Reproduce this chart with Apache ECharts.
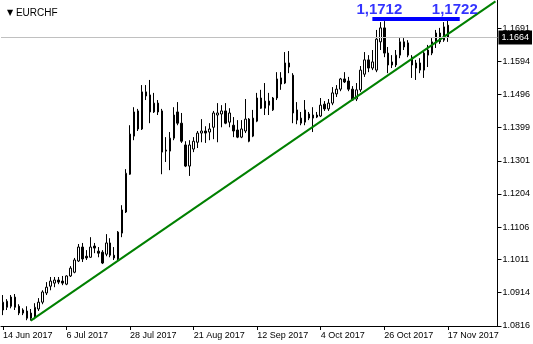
<!DOCTYPE html>
<html><head><meta charset="utf-8">
<script src="https://cdn.jsdelivr.net/npm/echarts@6/dist/echarts.min.js"></script>
<style>html,body{margin:0;padding:0;background:#fff}#c{width:533px;height:344px}</style>
</head><body><div id="c"></div>
<script>
// ---- data (daily EURCHF candles, 14 Jun 2017 .. 17 Nov 2017) ----
const symbolName = 'EURCHF';
const startDate = '2017-06-14';
const totalSlots = 125; // bars plus right-hand chart shift
const opens = [1.0863,1.0871,1.0901,1.0871,1.0874,1.0863,1.0860,1.0854,1.0842,1.0866,
1.0886,1.0913,1.0933,1.0942,1.0951,1.0948,1.0939,1.0963,1.0974,1.1007,
1.1048,1.1021,1.1018,1.1051,1.1036,1.1033,1.1027,1.1060,1.1024,1.1013,
1.1089,1.1151,1.1262,1.1374,1.1448,1.1395,1.1504,1.1495,1.1445,1.1471,
1.1448,1.1330,1.1330,1.1368,1.1445,1.1412,1.1348,1.1286,1.1336,1.1356,
1.1383,1.1389,1.1386,1.1400,1.1436,1.1439,1.1448,1.1415,1.1406,1.1392,
1.1371,1.1389,1.1424,1.1374,1.1418,1.1486,1.1456,1.1477,1.1451,1.1486,
1.1545,1.1530,1.1589,1.1553,1.1451,1.1412,1.1415,1.1427,1.1427,1.1436,
1.1433,1.1468,1.1454,1.1471,1.1498,1.1512,1.1542,1.1536,1.1512,1.1483,
1.1510,1.1556,1.1598,1.1574,1.1568,1.1651,1.1692,1.1618,1.1592,1.1583,
1.1612,1.1651,1.1648,1.1606,1.1574,1.1589,1.1568,1.1612,1.1618,1.1648,
1.1677,1.1656,1.1700];
const closes = [1.0886,1.0889,1.0874,1.0901,1.0854,1.0854,1.0839,1.0839,1.0871,1.0886,
1.0916,1.0930,1.0948,1.0951,1.0945,1.0942,1.0963,1.0986,1.1010,1.1048,
1.1013,1.1016,1.1048,1.1045,1.1030,1.1001,1.1060,1.1024,1.1016,1.1092,
1.1157,1.1265,1.1380,1.1445,1.1395,1.1504,1.1492,1.1445,1.1471,1.1445,
1.1327,1.1333,1.1368,1.1436,1.1412,1.1359,1.1286,1.1348,1.1359,1.1383,
1.1389,1.1383,1.1395,1.1442,1.1442,1.1448,1.1412,1.1442,1.1389,1.1371,
1.1395,1.1424,1.1359,1.1427,1.1486,1.1456,1.1477,1.1465,1.1486,1.1542,
1.1527,1.1589,1.1577,1.1442,1.1421,1.1427,1.1451,1.1439,1.1436,1.1430,
1.1465,1.1454,1.1471,1.1501,1.1512,1.1542,1.1533,1.1512,1.1480,1.1510,
1.1568,1.1598,1.1574,1.1592,1.1659,1.1692,1.1618,1.1583,1.1583,1.1612,
1.1651,1.1636,1.1612,1.1583,1.1589,1.1568,1.1618,1.1627,1.1651,1.1677,
1.1651,1.1695,1.1664];
const highs = [1.0907,1.0895,1.0907,1.0910,1.0880,1.0868,1.0874,1.0866,1.0883,1.0898,
1.0921,1.0945,1.0960,1.0960,1.0960,1.0963,1.0965,1.0992,1.1016,1.1057,
1.1060,1.1039,1.1077,1.1060,1.1048,1.1039,1.1086,1.1074,1.1048,1.1095,
1.1171,1.1277,1.1406,1.1459,1.1454,1.1524,1.1524,1.1539,1.1501,1.1480,
1.1454,1.1371,1.1386,1.1459,1.1474,1.1442,1.1359,1.1362,1.1371,1.1389,
1.1424,1.1403,1.1412,1.1448,1.1471,1.1465,1.1471,1.1456,1.1430,1.1421,
1.1421,1.1483,1.1427,1.1451,1.1501,1.1510,1.1530,1.1501,1.1489,1.1562,
1.1562,1.1621,1.1624,1.1559,1.1474,1.1445,1.1480,1.1445,1.1459,1.1445,
1.1486,1.1477,1.1483,1.1518,1.1524,1.1545,1.1562,1.1548,1.1521,1.1530,
1.1580,1.1621,1.1612,1.1627,1.1686,1.1709,1.1712,1.1636,1.1612,1.1627,
1.1662,1.1662,1.1656,1.1612,1.1598,1.1603,1.1627,1.1642,1.1662,1.1686,
1.1692,1.1709,1.1722];
const lows = [1.0848,1.0863,1.0868,1.0863,1.0848,1.0848,1.0833,1.0832,1.0836,1.0860,
1.0880,1.0907,1.0921,1.0930,1.0939,1.0936,1.0936,1.0960,1.0971,1.1004,
1.1004,1.1010,1.1016,1.1030,1.1018,1.0998,1.1021,1.1018,1.1010,1.1010,
1.1077,1.1148,1.1260,1.1362,1.1389,1.1392,1.1480,1.1412,1.1442,1.1436,
1.1262,1.1298,1.1274,1.1362,1.1406,1.1354,1.1283,1.1257,1.1327,1.1339,
1.1356,1.1354,1.1362,1.1365,1.1356,1.1400,1.1409,1.1400,1.1371,1.1368,
1.1368,1.1383,1.1356,1.1371,1.1415,1.1454,1.1436,1.1436,1.1448,1.1480,
1.1510,1.1527,1.1559,1.1412,1.1409,1.1406,1.1406,1.1421,1.1386,1.1427,
1.1430,1.1448,1.1448,1.1465,1.1489,1.1506,1.1530,1.1506,1.1478,1.1477,
1.1504,1.1548,1.1562,1.1568,1.1562,1.1627,1.1606,1.1559,1.1574,1.1577,
1.1603,1.1627,1.1606,1.1545,1.1539,1.1559,1.1545,1.1577,1.1612,1.1633,
1.1645,1.1651,1.1651];
const priceTicks = [1.0816,1.0914,1.1011,1.1106,1.1204,1.1301,1.1399,1.1496,1.1594,1.1691];
const priceMin = 1.0816, priceMax = 1.1774;
const bidPrice = 1.1664;
// trend line (bar index, price), resistance level and its notes
const trendIdx = [7, 124];
const trendPrice = [1.0832, 1.1770];
const levelIdx = [93, 115];
const levelPrice = 1.1718;
const noteIdx = [94, 113];
const notePrice = 1.1745;
const noteText = ['1,1712', '1,1722'];

// ---- build categories (trading days) ----
const MONTHS = ['Jan','Feb','Mar','Apr','May','Jun','Jul','Aug','Sep','Oct','Nov','Dec'];
const categories = [];
{
  const d = new Date(startDate + 'T00:00:00Z');
  while (categories.length < totalSlots) {
    const wd = d.getUTCDay();
    if (wd !== 0 && wd !== 6) categories.push(d.getUTCDate() + ' ' + MONTHS[d.getUTCMonth()] + ' ' + d.getUTCFullYear());
    d.setUTCDate(d.getUTCDate() + 1);
  }
}
const candles = opens.map((o, i) => [o, closes[i], lows[i], highs[i]]);
const trendData = trendIdx.map((x, i) => [x, trendPrice[i]]);
const levelData = levelIdx.map(x => [x, levelPrice]);
const noteData = noteIdx.map((x, i) => [x, notePrice, noteText[i]]);

const FONT = 'Liberation Sans';
const chart = echarts.init(document.getElementById('c'), null, {renderer: 'canvas', devicePixelRatio: 1});
chart.setOption({
  animation: false,
  backgroundColor: '#ffffff',
  title: {
    text: '{t|▼} ' + symbolName, left: 2, top: 3,
    textStyle: {fontFamily: FONT, fontSize: 10, fontWeight: 'normal', color: '#000',
      rich: {t: {fontSize: 8, color: '#000', fontFamily: 'DejaVu Sans'}}}
  },
  grid: {left: 0.5, top: 0, width: 500, height: 326, containLabel: false},
  xAxis: {
    type: 'category', data: categories, boundaryGap: true,
    axisLine: {show: true, lineStyle: {color: '#000', width: 1}},
    axisTick: {show: true, interval: 15, alignWithLabel: true, length: 4, lineStyle: {color: '#000'}},
    axisLabel: {interval: 15, align: 'left', margin: 5, fontFamily: FONT, fontSize: 9, color: '#000'},
    splitLine: {show: false}
  },
  yAxis: {
    type: 'value', position: 'right', min: priceMin, max: priceMax,
    axisLine: {show: true, lineStyle: {color: '#000', width: 1}},
    axisTick: {show: true, length: 4, lineStyle: {color: '#000'}, customValues: priceTicks},
    axisLabel: {margin: 5, fontFamily: FONT, fontSize: 9, color: '#000', customValues: priceTicks,
      formatter: v => v.toFixed(4)},
    splitLine: {show: false}
  },
  series: [
    {
      type: 'line', data: [], z: 1, silent: true,
      markLine: {
        silent: true, symbol: ['none', 'none'], animation: false, precision: 4,
        lineStyle: {color: '#c0c0c0', type: 'solid', width: 1},
        label: {show: true, position: 'end', distance: 1, formatter: bidPrice.toFixed(4),
          color: '#fff', backgroundColor: '#000', padding: [3, 3, 2, 3], fontFamily: FONT, fontSize: 9},
        data: [{yAxis: bidPrice}]
      }
    },
    {
      type: 'candlestick', data: candles, barWidth: 2, z: 3,
      itemStyle: {color: '#ffffff', color0: '#000000', borderColor: '#000000', borderColor0: '#000000', borderWidth: 1}
    },
    {
      type: 'line', data: trendData, symbol: 'none', z: 4, clip: true,
      lineStyle: {color: '#008000', width: 2}
    },
    {
      type: 'line', data: levelData, symbol: 'none', z: 4, clip: false,
      lineStyle: {color: '#0000ff', width: 4}
    },
    {
      type: 'scatter', data: noteData, symbolSize: 0, z: 5, clip: false,
      label: {show: true, position: 'inside', offset: [3, 0], formatter: p => p.value[2],
        color: '#0000ff', fontFamily: FONT, fontWeight: 'bold', fontSize: 15}
    }
  ]
});
</script></body></html>
